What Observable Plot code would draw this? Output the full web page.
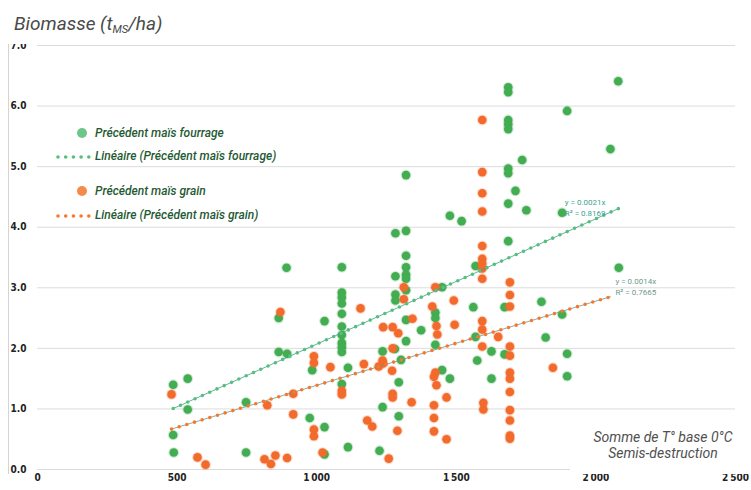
<!DOCTYPE html>
<html>
<head>
<meta charset="utf-8">
<script src="https://cdn.jsdelivr.net/npm/d3@7"></script>
<script src="https://cdn.jsdelivr.net/npm/@observablehq/plot@0.6"></script>
<style>
  html, body { margin: 0; padding: 0; background: #fff; }
  #wrap { position: relative; width: 751px; height: 490px; overflow: hidden; background: #fff; }
  #chart { position: absolute; left: 0; top: 0; }
  .title { position: absolute; left: 0; top: 0; width: 165px; height: 44px; background: #fff;
           font-family: Roboto, "Open Sans", sans-serif; font-style: italic; font-size: 19px; color: #4a4a4a; }
  .title span.t { position: absolute; left: 14px; top: 12px; white-space: nowrap; }
  .title sub { font-size: 11px; vertical-align: -3px; line-height: 0; }
  .vline { position: absolute; left: 8px; top: 34px; width: 1px; height: 440px; background: #d4d4d4; }
  .legend { position: absolute; left: 50px; top: 120px; font-family: Roboto, sans-serif; font-style: italic;
            font-size: 12px; font-weight: 500; color: #1f5a33; }
  .legend .row { position: absolute; left: 0; height: 16px; white-space: nowrap; }
  .legend svg { position: absolute; left: 0; top: 0; }
  .legend .lbl { position: absolute; left: 45px; top: 0; line-height: 16px; }
  .note { position: absolute; left: 570px; top: 426px; width: 181px; height: 48px; background: #fff;
          font-family: Roboto, sans-serif; font-style: italic; font-size: 14px; color: #505050;
          text-align: center; line-height: 16px; }
  .note div { position: absolute; width: 200px; left: -7px; }
</style>
</head>
<body>
<div id="wrap">
  <div id="chart"></div>
  <div class="vline"></div>
  <div class="title"><span class="t">Biomasse (t<sub>MS</sub>/ha)</span></div>
  <div class="legend" id="legend"></div>
  <div class="note"><div style="top:3px">Somme de T° base 0°C</div><div style="top:19px">Semis-destruction</div></div>
</div>
<script>
// ---- Data ----
const greenX = [486, 538, 538, 747, 486, 488, 747, 892, 864, 864, 894, 1028, 984, 1112, 975, 1028, 1112, 1028,
  1090, 1090, 1090, 1090, 1090, 1090, 1090, 1090, 1090, 1090, 1090,
  1320, 1282, 1320, 1320, 1320, 1320, 1320, 1282, 1282, 1282, 1320, 1320, 1374, 1320, 1236, 1280, 1302, 1294, 1236, 1294, 1225,
  1449, 1477, 1519, 1569, 1686, 1686, 1686, 1686, 1686, 1686, 1686, 1736, 1712, 1686, 1751, 1686,
  1673, 1561, 1805, 1425, 1425, 1425, 1569, 1626, 1673, 1575, 1449, 1477, 1626,
  2082, 1879, 1820, 1897, 1897, 2080, 1897, 2052, 1879];
const greenY = [1.40, 1.50, 0.99, 1.11, 0.57, 0.28, 0.28, 3.33, 2.50, 1.94, 1.91, 2.45, 1.64, 1.68, 0.85, 0.70, 0.37, 0.25,
  3.34, 2.92, 2.84, 2.74, 2.57, 2.36, 2.22, 2.09, 2.02, 1.94, 1.41,
  4.86, 3.90, 3.94, 3.53, 3.34, 3.22, 3.15, 3.19, 2.89, 2.79, 2.96, 2.47, 2.30, 2.12, 1.95, 1.99, 1.81, 1.44, 1.03, 0.88, 0.31,
  3.01, 4.19, 4.10, 3.36, 6.31, 6.23, 5.77, 5.70, 5.62, 4.97, 4.89, 5.11, 4.60, 4.39, 4.28, 3.77,
  2.68, 2.68, 2.77, 2.59, 2.50, 2.06, 2.19, 1.95, 1.90, 1.80, 1.64, 1.50, 1.50,
  3.33, 2.56, 2.18, 1.91, 1.54, 6.41, 5.92, 5.29, 4.24];

const orangeX = [480, 573, 602, 870, 1090, 1090, 1157, 990, 990, 1049, 1169, 1222, 1236, 1272, 1238, 1272, 1292,
  1312, 1312, 1270, 1272, 1272, 823, 916, 916, 990, 990, 1181, 1199, 1289, 1021, 1258, 813, 836, 852, 894,
  1343, 1340, 1238, 1425, 1414, 1429, 1432, 1425, 1420, 1429, 1420, 1420, 1420, 1491, 1494,
  1593, 1593, 1593, 1593, 1593, 1593, 1593, 1593, 1593, 1593, 1593, 1593, 1650,
  1692, 1692, 1692, 1692, 1692, 1692, 1692, 1692, 1692, 1692, 1692, 1692,
  1465, 1465, 1597, 1597, 1846];
const orangeY = [1.24, 0.20, 0.08, 2.60, 1.30, 1.24, 2.66, 1.87, 1.76, 1.69, 1.74, 1.70, 1.80, 2.00, 2.35, 2.35, 2.25,
  3.01, 2.81, 1.63, 1.25, 1.19, 1.06, 1.25, 0.91, 0.66, 0.55, 0.81, 0.71, 0.64, 0.28, 0.18, 0.17, 0.09, 0.23, 0.19,
  2.49, 1.11, 1.75, 3.01, 2.69, 2.37, 2.23, 1.60, 1.53, 1.39, 1.06, 0.85, 0.63, 2.79, 2.39,
  5.77, 4.91, 4.56, 4.26, 3.69, 3.48, 3.40, 3.32, 3.15, 2.45, 2.31, 2.03, 2.19,
  3.09, 2.88, 2.69, 2.03, 1.88, 1.60, 1.50, 1.28, 0.98, 0.81, 0.56, 0.51,
  1.19, 0.50, 1.10, 0.99, 1.68];

// Linear trend lines (through origin), as shown on the chart
const seriesNames = ["Précédent maïs fourrage", "Précédent maïs grain"];
const trendNames = ["Linéaire (Précédent maïs fourrage)", "Linéaire (Précédent maïs grain)"];
const trendSlopes = [0.00207, 0.00139];
const trendRangeX = [[486, 2082], [480, 2052]];
const trendEquations = [["y = 0.0021x", "R² = 0.8169"], ["y = 0.0014x", "R² = 0.7665"]];

const xTicks = [0, 500, 1000, 1500, 2000, 2500];
const xTickLabels = ["0", "500", "1\u202f000", "1\u202f500", "2\u202f000", "2\u202f500"];
const yTicks = [0, 1, 2, 3, 4, 5, 6, 7];
const yTickLabels = ["0.0", "1.0", "2.0", "3.0", "4.0", "5.0", "6.0", "7.0"];

// ---- Styles ----
const dotColors = ["#43ad52", "#f26b2d"];
const legendDotColors = ["#6cc68a", "#f68a4a"];
const trendDotColors = ["#55c07c", "#f5782f"];
const trendLineColors = ["#3f9e8c", "#6f9887"];
const eqColors = ["#3aa38f", "#6e9a88"];

// ---- Build tables ----
const green = greenX.map((x, i) => ({x, y: greenY[i]}));
const orange = orangeX.map((x, i) => ({x, y: orangeY[i]}));
const trends = trendSlopes.map((s, k) => trendRangeX[k].map(x => ({x, y: s * x, k})));
const eqLabels = trendSlopes.map((s, k) => {
  const x = trendRangeX[k][1];
  return {x, y: s * x, k};
});

const chart = Plot.plot({
  width: 751,
  height: 490,
  marginLeft: 37,
  marginRight: 16,
  marginTop: 45,
  marginBottom: 21,
  x: {domain: [0, 2500]},
  y: {domain: [0, 7]},
  style: {fontFamily: "'DejaVu Sans Condensed', 'DejaVu Sans', sans-serif", fontSize: "10px", background: "transparent", overflow: "visible"},
  marks: [
    Plot.gridY(yTicks, {stroke: "#dcdcdc", strokeOpacity: 1, strokeWidth: 1}),
    Plot.axisY(yTicks, {tickSize: 0, tickPadding: 27, textAnchor: "start", fontWeight: "bold", fill: "#222",
      tickFormat: (d) => yTickLabels[yTicks.indexOf(d)], label: null}),
    Plot.axisX(xTicks, {tickSize: 0, tickPadding: 4, fontWeight: "bold", fill: "#222",
      tickFormat: (d) => xTickLabels[xTicks.indexOf(d)], label: null}),
    Plot.dot(green, {x: "x", y: "y", r: 4.3, fill: dotColors[0], stroke: dotColors[0], strokeOpacity: 0.25, strokeWidth: 2.2}),
    Plot.dot(orange, {x: "x", y: "y", r: 4.3, fill: dotColors[1], stroke: dotColors[1], strokeOpacity: 0.25, strokeWidth: 2.2}),
    ...trends.map((t, k) => Plot.line(t, {x: "x", y: "y", stroke: trendLineColors[k], strokeWidth: 1, strokeOpacity: 0.8})),
    ...trends.map((t, k) => Plot.line(t, {x: "x", y: "y", stroke: trendDotColors[k], strokeWidth: 3.6,
      strokeDasharray: "0 8", strokeLinecap: "round"})),
    Plot.text([eqLabels[0]], {x: "x", y: "y", text: () => trendEquations[0][0], dx: -54, dy: -6, textAnchor: "start",
      fill: eqColors[0], fontSize: 8, fontFamily: "Roboto, sans-serif"}),
    Plot.text([eqLabels[0]], {x: "x", y: "y", text: () => trendEquations[0][1], dx: -54, dy: 5, textAnchor: "start",
      fill: eqColors[0], fontSize: 8, fontFamily: "Roboto, sans-serif"}),
    Plot.text([eqLabels[1]], {x: "x", y: "y", text: () => trendEquations[1][0], dx: 5, dy: -15, textAnchor: "start",
      fill: eqColors[1], fontSize: 8, fontFamily: "Roboto, sans-serif"}),
    Plot.text([eqLabels[1]], {x: "x", y: "y", text: () => trendEquations[1][1], dx: 5, dy: -4, textAnchor: "start",
      fill: eqColors[1], fontSize: 8, fontFamily: "Roboto, sans-serif"})
  ]
});
document.getElementById("chart").appendChild(chart);

// ---- Legend (inside plot area, top-left) ----
const legend = document.getElementById("legend");
const rows = [
  {type: "dot", k: 0, label: seriesNames[0], top: 5},
  {type: "trend", k: 0, label: trendNames[0], top: 28},
  {type: "dot", k: 1, label: seriesNames[1], top: 63},
  {type: "trend", k: 1, label: trendNames[1], top: 87}
];
for (const r of rows) {
  const row = document.createElement("div");
  row.className = "row";
  row.style.top = r.top + "px";
  let sym;
  if (r.type === "dot") {
    sym = `<svg width="44" height="16"><circle cx="32" cy="8" r="5" fill="${legendDotColors[r.k]}"/></svg>`;
  } else {
    sym = `<svg width="44" height="16"><line x1="8" y1="9" x2="40" y2="9" stroke="${trendDotColors[r.k]}" stroke-width="3.6" stroke-linecap="round" stroke-dasharray="0 7.7"/></svg>`;
  }
  row.innerHTML = sym + `<span class="lbl">${r.label}</span>`;
  legend.appendChild(row);
}
</script>
</body>
</html>
